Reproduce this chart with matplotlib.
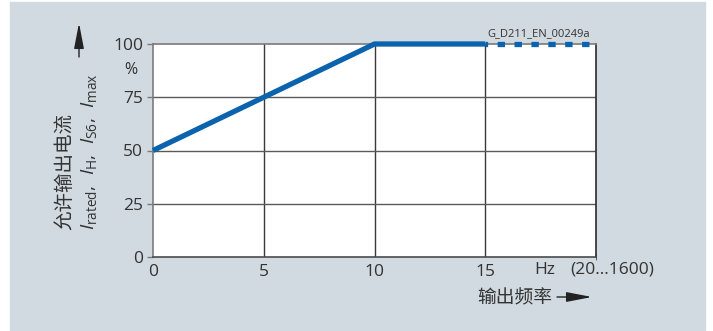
import matplotlib.pyplot as plt
from matplotlib.patches import Rectangle

plt.rcParams['font.family'] = ['Open Sans', 'Noto Sans CJK SC', 'DejaVu Sans']
plt.rcParams['mathtext.fontset'] = 'custom'
plt.rcParams['mathtext.rm'] = 'Open Sans'
plt.rcParams['mathtext.it'] = 'Open Sans:italic'

# data
freq = [0, 10, 15]
current = [50, 100, 100]
ext_freq = [15, 20]
ext_current = [100, 100]
x_ticks = [0, 5, 10, 15]
y_ticks = [0, 25, 50, 75, 100]

W, H = 713, 331
blue = '#0b63ae'
txt = '#333333'

fig = plt.figure(figsize=(W / 100, H / 100), dpi=100)

# grey panel behind the chart
fig.patches.append(Rectangle((10 / W, 1 / H), 695 / W, 328 / H,
                             transform=fig.transFigure, color='#d1dae0', zorder=-5))

ax = fig.add_axes([153 / W, (H - 257) / H, 443 / W, 213 / H])
ax.set_facecolor('white')
ax.set_xlim(0, 20)
ax.set_ylim(0, 100)

# grid
for v in x_ticks[1:]:
    ax.axvline(v, color='#3a3a3a', lw=1, zorder=1)
for v in y_ticks[1:-1]:
    ax.axhline(v, color='#5a5a5a', lw=1, zorder=1)

ax.plot(freq, current, color=blue, lw=3.8, solid_capstyle='butt', zorder=3, clip_on=False)
ax.plot(ext_freq, ext_current, color=blue, lw=3.8, linestyle=(0.9, (1.4, 1.8)),
        dash_capstyle='butt', zorder=3, clip_on=False)

for s in ['left', 'top']:
    ax.spines[s].set_color('#7a7a7a')
ax.spines['right'].set_color('#2a2a2a')
ax.spines['bottom'].set_color('#4a4a4a')
for s in ax.spines.values():
    s.set_linewidth(1.2)

ax.set_yticks(y_ticks)
ax.set_yticklabels([str(v) for v in y_ticks])
ax.tick_params(axis='y', length=4, width=1, color='#7a7a7a', pad=3,
               labelsize=12.5, labelcolor=txt)
ax.set_xticks(x_ticks)
ax.set_xticklabels([str(v) for v in x_ticks])
ax.tick_params(axis='x', length=0, pad=5, labelsize=12.5, labelcolor=txt)
ax.set_xticks([0, 20], minor=True)
ax.tick_params(axis='x', which='minor', length=4, direction='inout', color='#4a4a4a')

fig.text(131 / W, 1 - 70 / H, '%', ha='center', va='center', fontsize=11.5, color=txt)
fig.text(545 / W, 1 - 270 / H, 'Hz', ha='center', va='center', fontsize=12.5, color=txt)
fig.text(612 / W, 1 - 270 / H, '(20...1600)', ha='center', va='center', fontsize=12.5, color=txt)
fig.text(539 / W, 1 - 34 / H, 'G_D211_EN_00249a', ha='center', va='center',
         fontsize=8, color=txt)

arrow = dict(arrowstyle='-|>,head_length=1.3,head_width=0.25',
             color='#222222', lw=1, mutation_scale=12, shrinkA=0, shrinkB=0)

# axis titles with arrows
fig.text(515 / W, 1 - 298 / H, '输出频率', ha='center', va='center', fontsize=13.5, color=txt)
fig.add_artist(plt.Annotation('', xy=(592, H - 297), xytext=(557, H - 297),
                              xycoords='figure pixels', arrowprops=arrow))
fig.text(65 / W, 1 - 230 / H, '允许输出电流', rotation=90, ha='center', va='bottom',
         fontsize=14, color=txt)
fig.text(89 / W, 1 - 230 / H,
         r'$I_\mathrm{rated}$,  $I_\mathrm{H}$,  $I_\mathrm{S6}$,  $I_\mathrm{max}$',
         rotation=90, ha='center', va='bottom', fontsize=14, color=txt)
fig.add_artist(plt.Annotation('', xy=(79, H - 23), xytext=(79, H - 57),
                              xycoords='figure pixels', arrowprops=arrow))

fig.savefig('out.png', dpi=100, facecolor='white')
